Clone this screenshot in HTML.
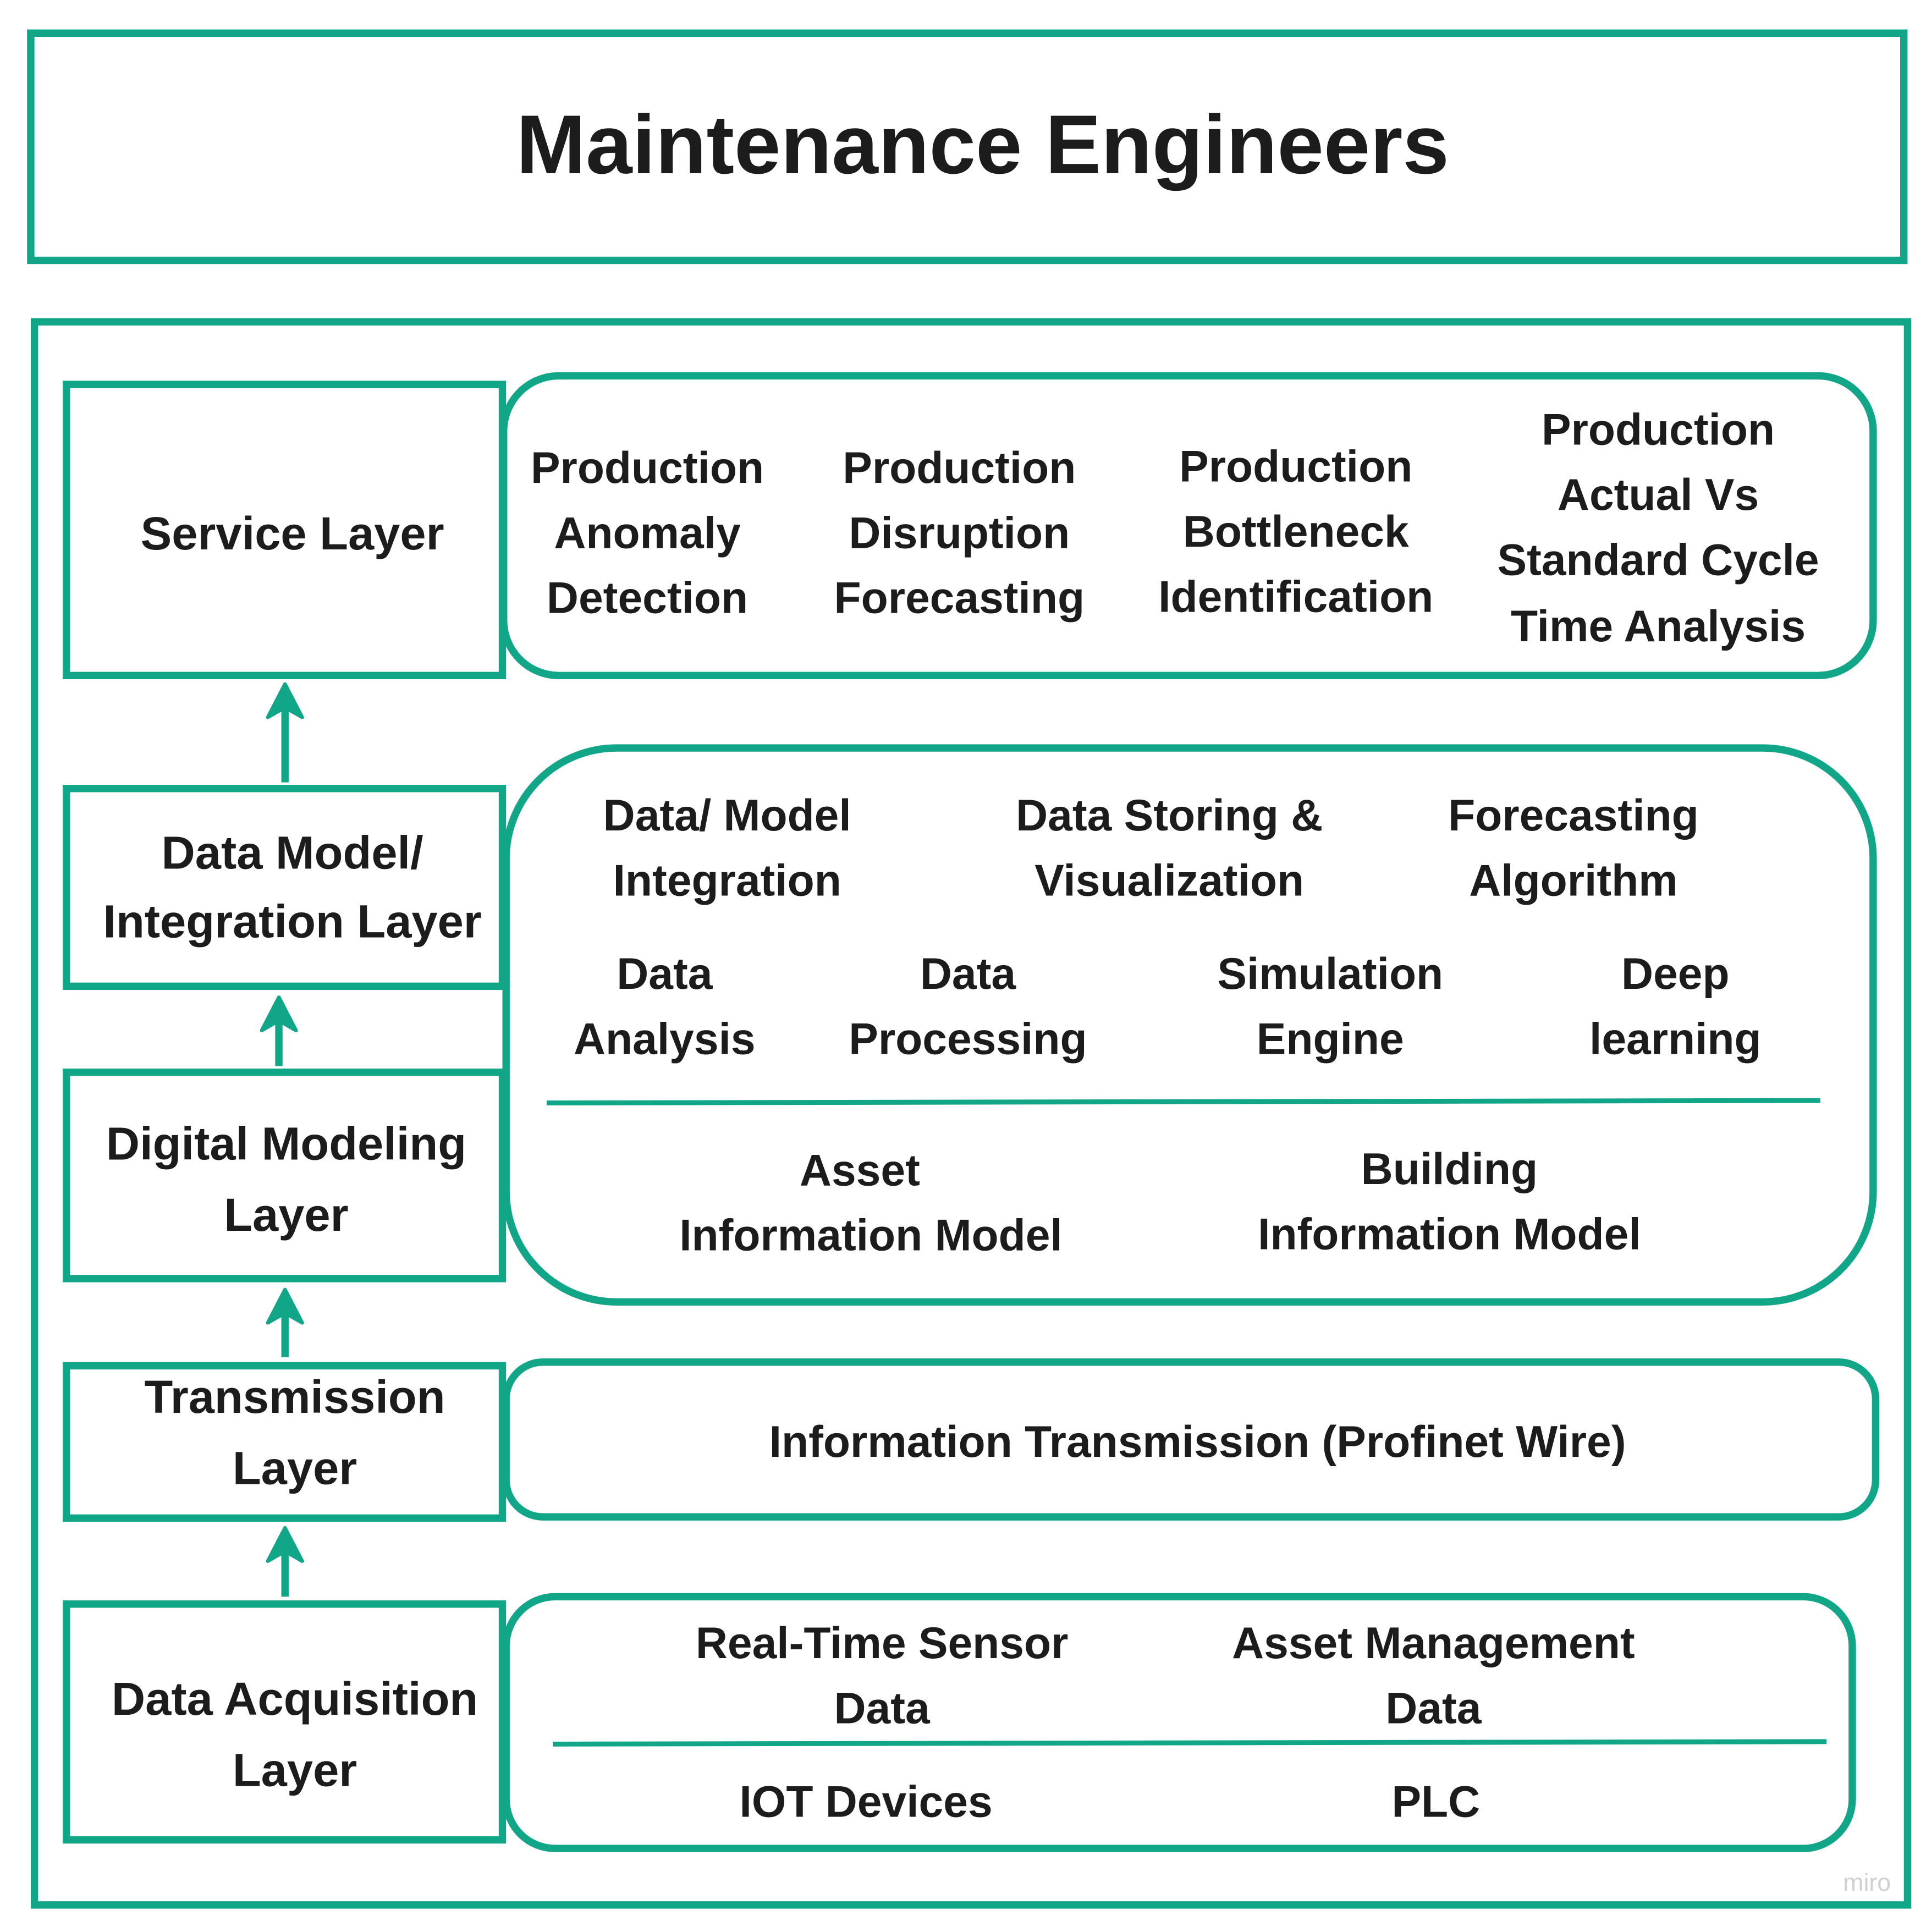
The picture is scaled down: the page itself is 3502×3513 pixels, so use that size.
<!DOCTYPE html>
<html><head><meta charset="utf-8"><style>
html,body{margin:0;padding:0;background:#fff;}
svg{display:block;}
text{font-family:"Liberation Sans",sans-serif;font-weight:bold;fill:#1c1c1c;text-anchor:middle;dominant-baseline:central;}
</style></head><body>
<svg width="3502" height="3513" viewBox="0 0 1568 1573" xmlns="http://www.w3.org/2000/svg">
<g fill="none" stroke="#12a688" stroke-width="6">
<rect x="25" y="27" width="1525" height="185"/>
<rect x="28" y="262" width="1525" height="1289"/>
<rect x="54" y="313" width="355" height="237"/>
<rect x="410" y="306" width="1115" height="244" rx="45"/>
<rect x="54" y="642" width="355" height="161"/>
<rect x="54" y="873" width="355" height="168"/>
<rect x="412" y="609" width="1113" height="451" rx="90"/>
<rect x="54" y="1112" width="355" height="124"/>
<rect x="412" y="1109" width="1115" height="126" rx="30"/>
<rect x="54" y="1306" width="355" height="192"/>
<rect x="412" y="1300" width="1096" height="205" rx="40"/>
<line x1="445" y1="898" x2="1482" y2="896" stroke-width="4"/>
<line x1="450" y1="1420" x2="1487" y2="1418" stroke-width="4"/>
<line x1="232" y1="637" x2="232" y2="570"/>
<line x1="227" y1="868" x2="227" y2="825"/>
<line x1="232" y1="1105" x2="232" y2="1063"/>
<line x1="232" y1="1300" x2="232" y2="1257"/>
</g>
<g fill="#12a688" stroke="#12a688" stroke-width="3" stroke-linejoin="round">
<polygon points="232,557 218,584 232,576 246,584"/>
<polygon points="227,812 213,839 227,831 241,839"/>
<polygon points="232,1050 218,1077 232,1069 246,1077"/>
<polygon points="232,1244 218,1271 232,1263 246,1271"/>
</g>
<text x="800" y="118" font-size="68">Maintenance Engineers</text>
<g font-size="38">
<text x="238" y="434">Service Layer</text>
<text x="238" y="694">Data Model/</text>
<text x="238" y="750">Integration Layer</text>
<text x="233" y="931">Digital Modeling</text>
<text x="233" y="989">Layer</text>
<text x="240" y="1137">Transmission</text>
<text x="240" y="1195">Layer</text>
<text x="240" y="1383">Data Acquisition</text>
<text x="240" y="1441">Layer</text>
</g>
<g font-size="36">
<text x="527" y="381">Production</text><text x="527" y="434">Anomaly</text><text x="527" y="487">Detection</text>
<text x="781" y="381">Production</text><text x="781" y="434">Disruption</text><text x="781" y="487">Forecasting</text>
<text x="1055" y="380">Production</text><text x="1055" y="433">Bottleneck</text><text x="1055" y="486">Identification</text>
<text x="1350" y="350">Production</text><text x="1350" y="403">Actual Vs</text><text x="1350" y="456">Standard Cycle</text><text x="1350" y="510">Time Analysis</text>
<text x="592" y="664">Data/ Model</text><text x="592" y="717">Integration</text>
<text x="952" y="664">Data Storing &amp;</text><text x="952" y="717">Visualization</text>
<text x="1281" y="664">Forecasting</text><text x="1281" y="717">Algorithm</text>
<text x="541" y="793">Data</text><text x="541" y="846">Analysis</text>
<text x="788" y="793">Data</text><text x="788" y="846">Processing</text>
<text x="1083" y="793">Simulation</text><text x="1083" y="846">Engine</text>
<text x="1364" y="793">Deep</text><text x="1364" y="846">learning</text>
<text x="700" y="953">Asset</text><text x="709" y="1006">Information Model</text>
<text x="1180" y="952">Building</text><text x="1180" y="1005">Information Model</text>
<text x="975" y="1174">Information Transmission (Profinet Wire)</text>
<text x="718" y="1338">Real-Time Sensor</text><text x="718" y="1391">Data</text>
<text x="1167" y="1338">Asset Management</text><text x="1167" y="1391">Data</text>
<text x="705" y="1467">IOT Devices</text><text x="1169" y="1467">PLC</text>
</g>
<text x="1520" y="1533" font-size="20" style="fill:#d0d0d0;font-weight:normal">miro</text>
</svg>
</body></html>
